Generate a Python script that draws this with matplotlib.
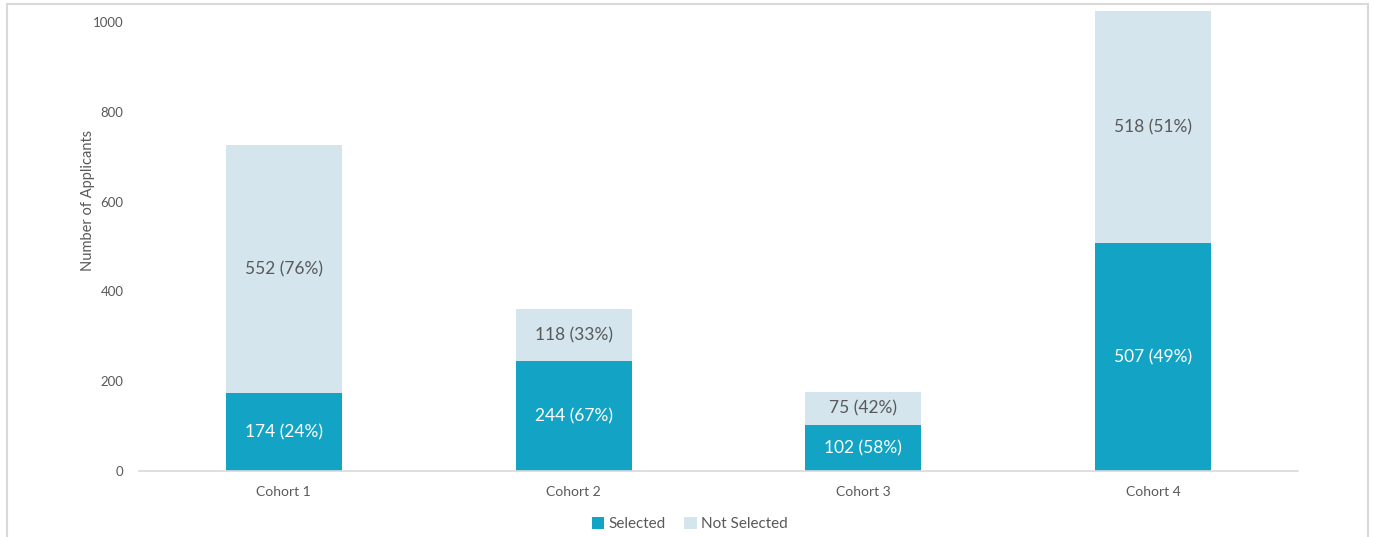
import matplotlib.pyplot as plt
from matplotlib.patches import Rectangle

plt.rcParams['font.family'] = ['Lato', 'DejaVu Sans']

# data
cohorts = ["Cohort 1", "Cohort 2", "Cohort 3", "Cohort 4"]
selected = [174, 244, 102, 507]
not_selected = [552, 118, 75, 518]
selected_pct = [24, 67, 58, 49]
not_selected_pct = [76, 33, 42, 51]
yticks = [0, 200, 400, 600, 800, 1000]

sel_color = "#13a3c4"
not_color = "#d4e5ed"
text_gray = "#595959"

fig = plt.figure(figsize=(13.75, 5.37), dpi=100)
ax = fig.add_axes([139 / 1375, 1 - 471 / 537, 1159 / 1375, 461 / 537])

x = list(range(len(cohorts)))
ax.bar(x, selected, width=0.4, color=sel_color, label="Selected")
ax.bar(x, not_selected, width=0.4, bottom=selected, color=not_color, label="Not Selected")

# labels inside the segments
for i in x:
    ax.text(i, selected[i] / 2, f"{selected[i]} ({selected_pct[i]}%)",
            ha="center", va="center", color="white", fontsize=12.5)
    ax.text(i, selected[i] + not_selected[i] / 2, f"{not_selected[i]} ({not_selected_pct[i]}%)",
            ha="center", va="center", color=text_gray, fontsize=12.5)

ax.set_xlim(-0.5, 3.5)
ax.set_ylim(0, 1027)
ax.set_xticks(x)
ax.set_xticklabels(cohorts)
ax.set_yticks(yticks)
ax.tick_params(axis="both", length=0, labelcolor=text_gray)
ax.tick_params(axis="y", pad=11, labelsize=9.5)
ax.tick_params(axis="x", pad=11, labelsize=10)
for s in ["top", "right", "left"]:
    ax.spines[s].set_visible(False)
ax.spines["bottom"].set_color("#d9d9d9")
ax.spines["bottom"].set_linewidth(1.2)

ax.set_ylabel("Number of Applicants", fontsize=10.5, color=text_gray)
ax.yaxis.set_label_coords(-0.038, 0.586)

ax.legend(loc="center", bbox_to_anchor=(690 / 1375, 1 - 524 / 537),
          bbox_transform=fig.transFigure, ncol=2, frameon=False,
          fontsize=11, handlelength=0.8, handleheight=0.8, columnspacing=1.2,
          handletextpad=0.3, labelcolor=text_gray)

# light frame around the chart
fig.patches.append(Rectangle((7 / 1375, -0.05), 1361 / 1375, 1 - 4 / 537 + 0.05,
                             transform=fig.transFigure, fill=False,
                             edgecolor="#d9d9d9", linewidth=1.5))

plt.savefig("out.png", dpi=100)
